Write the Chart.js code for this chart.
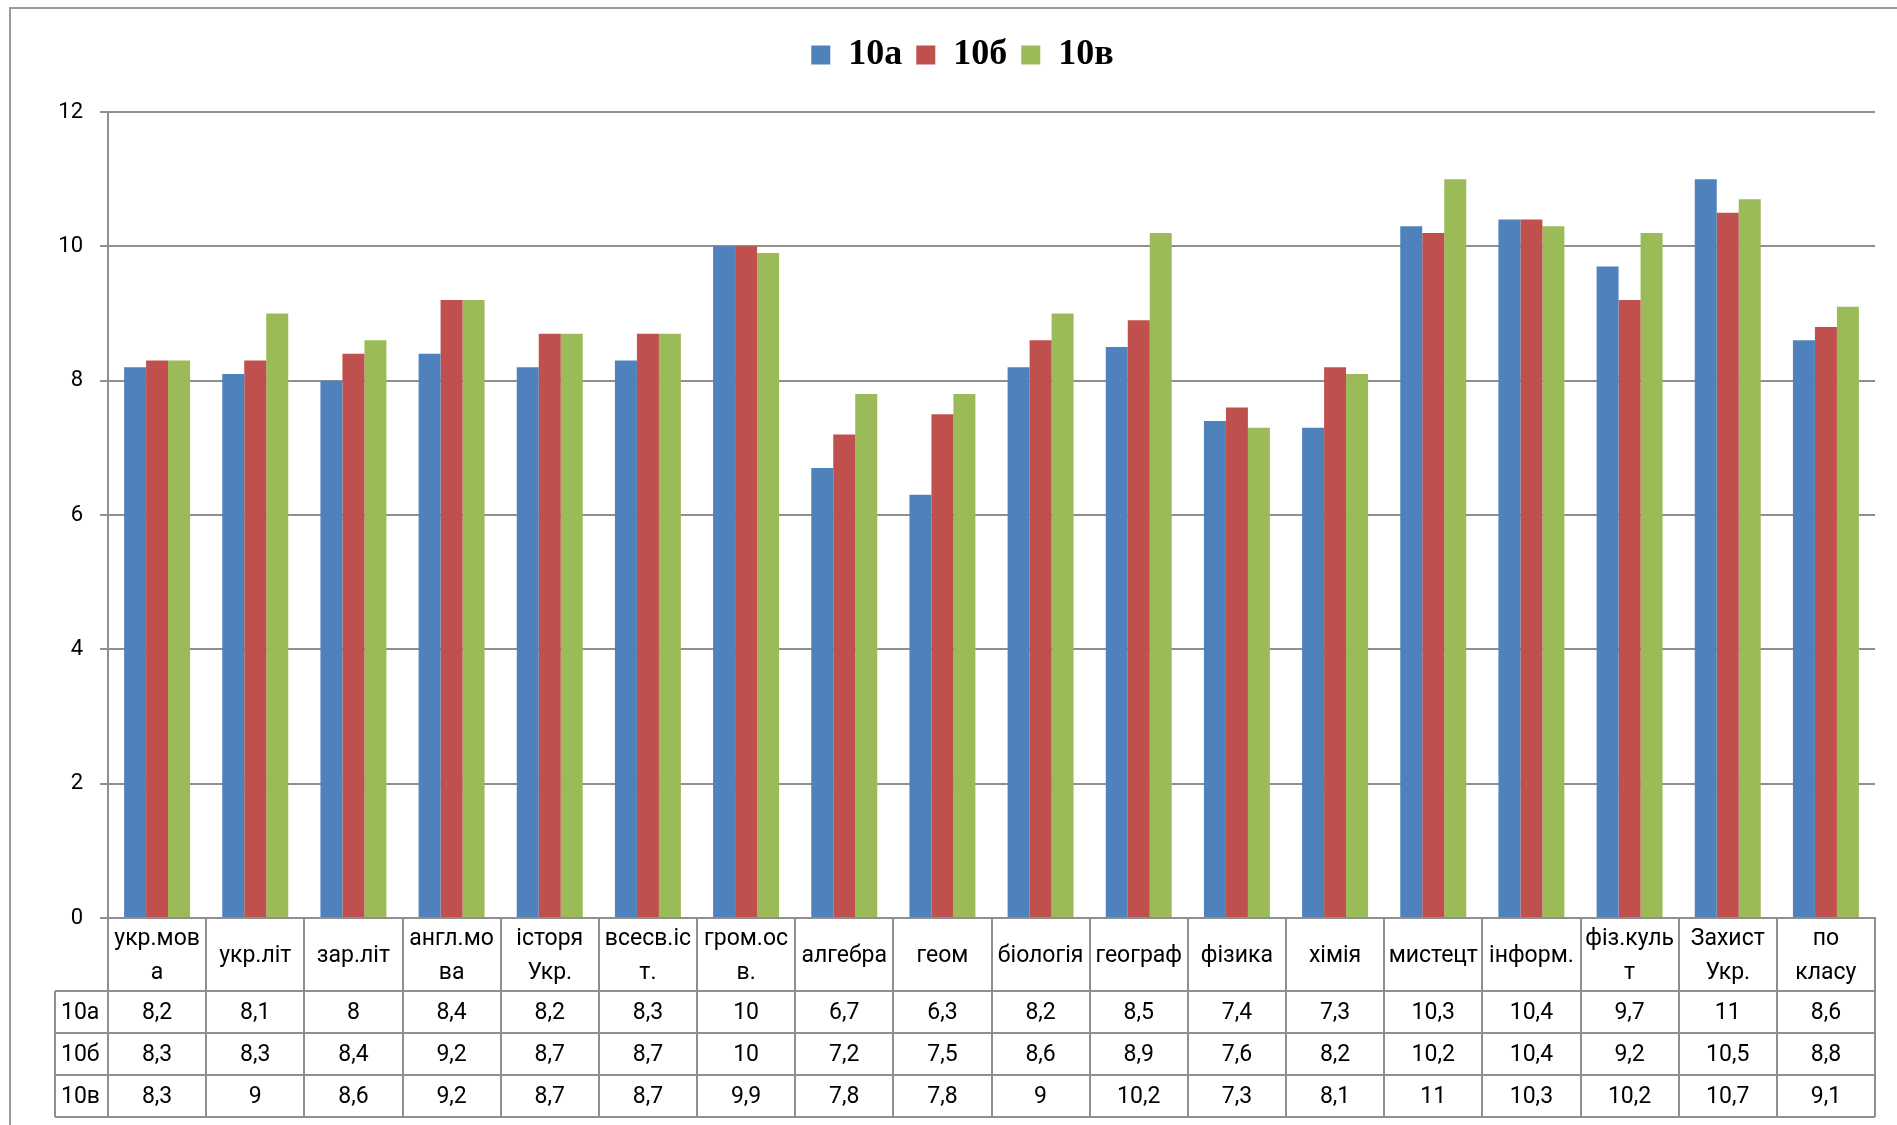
<!DOCTYPE html>
<html>
<head>
<meta charset="utf-8">
<script src="https://cdn.jsdelivr.net/npm/chart.js@4.4.1/dist/chart.umd.min.js"></script>
<style>
    html, body { margin: 0; padding: 0; background: #fff; }
    #wrap { position: relative; width: 1897px; height: 1125px; }
</style>
</head>
<body>
<div id="wrap"><canvas id="chart"></canvas></div>
<script>
// Subjects (header row of the data table)
const subjects = [
    ['укр.мов', 'а'], ['укр.літ'], ['зар.літ'], ['англ.мо', 'ва'], ['історя', 'Укр.'],
    ['всесв.іс', 'т.'], ['гром.ос', 'в.'], ['алгебра'], ['геом'], ['біологія'],
    ['географ'], ['фізика'], ['хімія'], ['мистецт'], ['інформ.'],
    ['фіз.куль', 'т'], ['Захист', 'Укр.'], ['по', 'класу']
];

const classNames = ['10а', '10б', '10в'];

const scores10a = [8.2, 8.1, 8, 8.4, 8.2, 8.3, 10, 6.7, 6.3, 8.2, 8.5, 7.4, 7.3, 10.3, 10.4, 9.7, 11, 8.6];
const scores10b = [8.3, 8.3, 8.4, 9.2, 8.7, 8.7, 10, 7.2, 7.5, 8.6, 8.9, 7.6, 8.2, 10.2, 10.4, 9.2, 10.5, 8.8];
const scores10v = [8.3, 9, 8.6, 9.2, 8.7, 8.7, 9.9, 7.8, 7.8, 9, 10.2, 7.3, 8.1, 11, 10.3, 10.2, 10.7, 9.1];

const yTicks = [0, 2, 4, 6, 8, 10, 12];

const colors = ['#4F81BD', '#C0504D', '#9BBB59'];
const lineColor = '#8f8f8f';
const bodyFont = 'Roboto';

// extra room under the legend
const legendGap = {
    id: 'legendGap',
    beforeInit(chart) {
        const fit = chart.legend.fit;
        chart.legend.fit = function () {
            fit.bind(chart.legend)();
            this.height += 29;
        };
    }
};

// outer frame + data table under the x axis
const dataTable = {
    id: 'dataTable',
    beforeDraw(chart) {
        const ctx = chart.ctx;
        ctx.save();
        ctx.strokeStyle = '#9a9a9a';
        ctx.lineWidth = 2;
        ctx.beginPath();
        ctx.moveTo(10, 1125);
        ctx.lineTo(10, 8);
        ctx.lineTo(1897, 8);
        ctx.stroke();
        ctx.restore();
    },
    afterDraw(chart) {
        const ctx = chart.ctx;
        const x = chart.scales.x;
        const n = subjects.length;
        const colW = x.width / n;
        const top = x.top;
        const hdrBottom = top + 73;
        const rowH = (x.bottom - hdrBottom) / 3;
        const labelLeft = 55;
        const rows = [scores10a, scores10b, scores10v];

        ctx.save();
        ctx.strokeStyle = lineColor;
        ctx.lineWidth = 2;
        ctx.beginPath();
        for (let i = 0; i <= n; i++) {
            const bx = Math.round(x.left + i * colW);
            ctx.moveTo(bx, top);
            ctx.lineTo(bx, x.bottom);
        }
        ctx.moveTo(labelLeft, hdrBottom);
        ctx.lineTo(labelLeft, x.bottom);
        for (let r = 0; r <= 3; r++) {
            const y = Math.round(hdrBottom + r * rowH);
            ctx.moveTo(labelLeft, y);
            ctx.lineTo(x.right, y);
        }
        ctx.stroke();

        ctx.fillStyle = '#000';
        ctx.font = '23px ' + bodyFont;
        ctx.textBaseline = 'middle';
        rows.forEach((vals, r) => {
            const cy = hdrBottom + r * rowH + rowH / 2 + 1;
            ctx.textAlign = 'left';
            ctx.fillText(classNames[r], 61, cy);
            ctx.textAlign = 'center';
            vals.forEach((v, i) => {
                ctx.fillText(String(v).replace('.', ','), x.getPixelForValue(i), cy);
            });
        });
        ctx.restore();
    }
};

new Chart(document.getElementById('chart'), {
    type: 'bar',
    data: {
        labels: subjects,
        datasets: [
            { label: classNames[0], data: scores10a, backgroundColor: colors[0] },
            { label: classNames[1], data: scores10b, backgroundColor: colors[1] },
            { label: classNames[2], data: scores10v, backgroundColor: colors[2] }
        ]
    },
    options: {
        responsive: true,
        maintainAspectRatio: false,
        animation: false,
        devicePixelRatio: 1,
        layout: { padding: { left: 50, right: 22, top: 23, bottom: 8 } },
        datasets: {
            bar: { categoryPercentage: 0.672, barPercentage: 1 }
        },
        scales: {
            y: {
                min: 0,
                max: 12,
                afterBuildTicks: scale => { scale.ticks = yTicks.map(v => ({ value: v })); },
                afterFit: scale => { scale.width = 58; },
                ticks: {
                    color: '#000',
                    padding: 17,
                    font: { family: bodyFont, size: 22 }
                },
                grid: { color: lineColor, lineWidth: 2, tickLength: 8 },
                border: { color: lineColor, width: 2 }
            },
            x: {
                afterFit: scale => { scale.height = 199; },
                grid: { display: false, drawTicks: false },
                border: { color: lineColor, width: 2 },
                ticks: {
                    color: '#000',
                    autoSkip: false,
                    maxRotation: 0,
                    minRotation: 0,
                    padding: 21,
                    crossAlign: 'center',
                    font: { family: bodyFont, size: 23, lineHeight: 1.478 }
                }
            }
        },
        plugins: {
            legend: {
                position: 'top',
                labels: {
                    color: '#000',
                    boxWidth: 19,
                    boxHeight: 19,
                    padding: 14,
                    font: { family: 'Liberation Serif', size: 36, weight: 'bold' }
                }
            },
            tooltip: { enabled: false }
        }
    },
    plugins: [legendGap, dataTable]
});
</script>
</body>
</html>
